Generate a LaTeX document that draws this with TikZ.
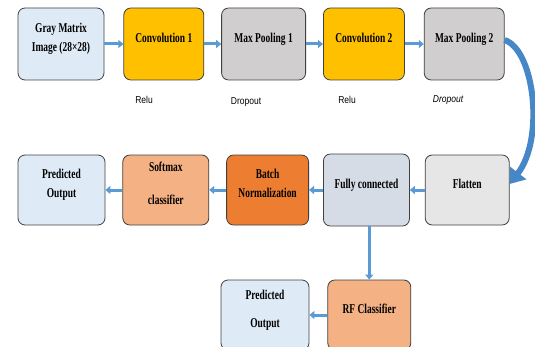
\documentclass[tikz,border=0pt]{standalone}
\usepackage{tikz}
\usetikzlibrary{arrows.meta, positioning, calc}
\usepackage{xcolor}
\usepackage{fontspec}
\newfontfamily\boxfont[FakeStretch=0.7]{Liberation Serif Bold}
\newfontfamily\notefont[FakeStretch=0.85]{Liberation Sans}
\definecolor{inputBlue}{RGB}{222,235,247}
\definecolor{convGold}{RGB}{255,192,0}
\definecolor{poolGray}{RGB}{208,206,206}
\definecolor{flattenGray}{RGB}{231,230,230}
\definecolor{denseSlate}{RGB}{214,220,229}
\definecolor{batchOrange}{RGB}{237,125,49}
\definecolor{softmaxPeach}{RGB}{244,177,131}
\definecolor{arrowBlue}{RGB}{91,155,213}
\definecolor{bendBlue}{RGB}{70,135,200}

\begin{document}
\begin{tikzpicture}[
    x=1pt, y=1pt,
    layer/.style={rectangle, rounded corners=7pt, draw=black!75, line width=0.8pt, minimum height=72pt, align=center,
        font=\boxfont\fontsize{13.5}{19}\selectfont, execute at end node={\rule[-13pt]{0pt}{0pt}}},
    actnote/.style={font=\notefont\fontsize{10}{12}\selectfont},
    arrow/.style={-{Triangle[length=5pt, width=8pt]}, line width=3pt, draw=arrowBlue},
    bendarrow/.style={-{Triangle[length=14pt, width=20pt]}, line width=6pt, draw=bendBlue}
]
\useasboundingbox (0,0) rectangle (535,346);

% Feature extraction
\node[layer, fill=inputBlue, minimum width=86pt] (input) at (61,302) {Gray Matrix\\Image (28×28)};
\node[layer, fill=convGold, minimum width=80pt, right=19pt of input] (conv1) {Convolution 1};
\node[layer, fill=poolGray, minimum width=84pt, right=17pt of conv1] (pool1) {Max Pooling 1};
\node[layer, fill=convGold, minimum width=81pt, right=17pt of pool1] (conv2) {Convolution 2};
\node[layer, fill=poolGray, minimum width=80pt, right=19pt of conv2] (pool2) {Max Pooling 2};

\node[actnote] (relu1) at (144,246) {Relu};
\node[actnote] (drop1) at (246,244) {Dropout};
\node[actnote] (relu2) at (347,246) {Relu};
\node[actnote, font=\notefont\itshape\fontsize{10}{12}\selectfont] (drop2) at (448,246) {Dropout};

\draw[arrow] (input) -- (conv1);
\draw[arrow] (conv1) -- (pool1);
\draw[arrow] (pool1) -- (conv2);
\draw[arrow] (conv2) -- (pool2);

% Classification
\node[layer, fill=inputBlue, minimum width=87pt, minimum height=70pt] (predA) at (61.5,156) {Predicted\\Output};
\node[layer, fill=softmaxPeach, minimum width=86pt, minimum height=70pt, right=17pt of predA] (softmax) {Softmax\\[14pt]classifier};
\node[layer, fill=batchOrange, minimum width=82pt, minimum height=70pt, right=17pt of softmax] (batchnorm) {Batch\\Normalization};
\node[layer, fill=denseSlate, minimum width=86pt, right=14pt of batchnorm] (fc) {Fully connected};
\node[layer, fill=flattenGray, minimum width=84pt, minimum height=70pt, right=15pt of fc] (flatten) {Flatten};

\draw[bendarrow] ([yshift=4pt]pool2.east) .. controls +(30,-10) and +(35,45) .. ([yshift=6pt]flatten.east);
\draw[arrow] (flatten) -- (fc);
\draw[arrow] (fc) -- (batchnorm);
\draw[arrow] (batchnorm) -- (softmax);
\draw[arrow] (softmax) -- (predA);

% Random forest branch
\node[layer, fill=inputBlue, minimum width=88pt, minimum height=70pt] (predB) at (265,31) {Predicted\\[9pt]Output};
\node[layer, fill=softmaxPeach, minimum width=83pt, minimum height=70pt, right=18pt of predB] (rf) {RF Classifier};

\draw[arrow] (rf.north |- fc.south) -- (rf.north);
\draw[arrow] (rf) -- (predB);
\end{tikzpicture}
\end{document}
